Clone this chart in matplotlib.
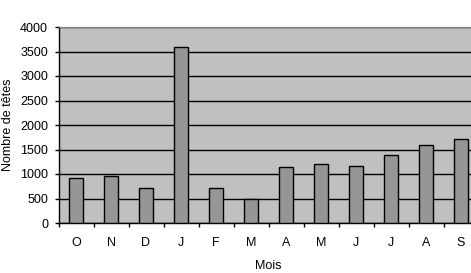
import numpy as np
import matplotlib.pyplot as plt

plt.rcParams['font.family'] = ['Liberation Sans', 'DejaVu Sans']

# Month labels (October to September) and head counts
mois = ['O', 'N', 'D', 'J', 'F', 'M', 'A', 'M', 'J', 'J', 'A', 'S']
tetes = [910, 950, 705, 3590, 705, 490, 1135, 1195, 1155, 1380, 1585, 1705]

fig = plt.figure(figsize=(4.71, 2.73), dpi=100)
ax = fig.add_axes([58.5 / 471, 50 / 273, 420 / 471, 196 / 273])
ax.set_facecolor('#c0c0c0')

x = np.arange(len(mois))
ax.bar(x, tetes, width=0.4, color='#969696', edgecolor='black', linewidth=1, zorder=3)

ax.set_xlim(-0.5, len(mois) - 0.5)
ax.set_ylim(0, 4000)
ax.set_yticks(np.arange(0, 4001, 500))
ax.set_xticks(x)
ax.set_xticklabels(mois)
ax.set_xticks(np.arange(-0.5, len(mois), 1), minor=True)

ax.yaxis.grid(True, color='black', linewidth=1, zorder=1)
ax.set_axisbelow(True)

ax.tick_params(axis='x', which='major', length=0, pad=10, labelsize=9)
ax.tick_params(axis='x', which='minor', length=3, width=1, color='black')
ax.tick_params(axis='y', length=3, width=1, pad=4.5, labelsize=9)

for s in ['left', 'bottom']:
    ax.spines[s].set_color('black')
    ax.spines[s].set_linewidth(1)
ax.spines['top'].set_color('#808080')
ax.spines['right'].set_visible(False)

ax.set_ylabel('Nombre de têtes', fontsize=9, labelpad=4.5)
ax.set_xlabel('Mois', fontsize=9, labelpad=8)

fig.savefig('out.png', dpi=100)
